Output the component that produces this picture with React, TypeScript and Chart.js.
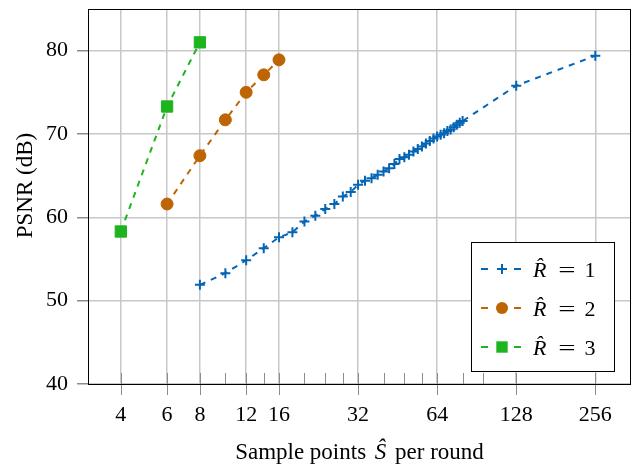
import React, { useEffect, useRef } from "react";
import { Chart, registerables } from "chart.js";

Chart.register(...registerables);

// ---- data ----
const xMajorTicks = [4, 6, 8, 12, 16, 32, 64, 128, 256];
const xMinorTicks = [10, 14, 20, 24, 28, 40, 48, 56, 80, 96];
const yTickValues = [40, 50, 60, 70, 80];

const r1X = [8, 10, 12, 14, 16, 18, 20, 22, 24, 26, 28, 30, 32, 34, 36, 38, 40, 42, 44, 46, 48, 50, 52, 54, 56, 58, 60, 62, 64, 66, 68, 70, 72, 74, 76, 78, 80, 128, 256];
const r1Y = [51.9, 53.3, 54.85, 56.3, 57.6, 58.2, 59.5, 60.2, 61.0, 61.6, 62.5, 63.05, 63.9, 64.4, 64.7, 65.1, 65.5, 65.9, 66.4, 67.0, 67.2, 67.5, 67.9, 68.2, 68.5, 68.85, 69.15, 69.45, 69.7, 69.9, 70.1, 70.35, 70.55, 70.8, 71.1, 71.35, 71.55, 75.8, 79.4];

const r2X = [6, 8, 10, 12, 14, 16];
const r2Y = [61.6, 67.4, 71.7, 75.0, 77.1, 78.9];

const r3X = [4, 6, 8];
const r3Y = [58.3, 73.3, 81.0];

const seriesLabels = ["R\u0302 = 1", "R\u0302 = 2", "R\u0302 = 3"];
const seriesColors = ["#0565b5", "#bd6505", "#1eb41e"];
const seriesMarkers = ["cross", "circle", "rect"];

// x title pieces: [text, italic?]
const xTitleParts: [string, boolean][] = [
  ["Sample points ", false],
  ["S\u0302", true],
  [" per round", false],
];
const yTitle = "PSNR (dB)";

const SERIF = '"Liberation Serif", "Times New Roman", serif';

function toPoints(xs: number[], ys: number[]) {
  return xs.map((x, i) => ({ x, y: ys[i] }));
}

function drawMarker(ctx: CanvasRenderingContext2D, style: string, x: number, y: number, color: string) {
  ctx.save();
  ctx.setLineDash([]);
  ctx.fillStyle = color;
  ctx.strokeStyle = color;
  if (style === "cross") {
    ctx.lineWidth = 2;
    ctx.beginPath();
    ctx.moveTo(x - 5, y);
    ctx.lineTo(x + 5, y);
    ctx.moveTo(x, y - 5);
    ctx.lineTo(x, y + 5);
    ctx.stroke();
  } else if (style === "circle") {
    ctx.beginPath();
    ctx.arc(x, y, 6, 0, Math.PI * 2);
    ctx.fill();
  } else {
    ctx.fillRect(x - 5.7, y - 5.7, 11.4, 11.4);
  }
  ctx.restore();
}

const axisDecor = {
  id: "axisDecor",
  afterDraw(chart: any) {
    const { ctx, chartArea } = chart;
    const xs = chart.scales.x;
    ctx.save();
    ctx.strokeStyle = "#8c8c8c";
    ctx.lineWidth = 1;
    const b = chartArea.bottom;
    xMajorTicks.forEach((v) => {
      const px = Math.round(xs.getPixelForValue(v)) + 0.5;
      ctx.beginPath();
      ctx.moveTo(px, b - 11);
      ctx.lineTo(px, b + 11);
      ctx.stroke();
    });
    xMinorTicks.forEach((v) => {
      const px = Math.round(xs.getPixelForValue(v)) + 0.5;
      ctx.beginPath();
      ctx.moveTo(px, b - 11);
      ctx.lineTo(px, b);
      ctx.stroke();
    });
    // frame
    ctx.strokeStyle = "#000";
    ctx.lineWidth = 1;
    ctx.strokeRect(chartArea.left + 0.5, chartArea.top + 0.5, chartArea.right - chartArea.left - 1, chartArea.bottom - chartArea.top);

    // x axis title (with italic math symbol)
    ctx.fillStyle = "#000";
    ctx.textBaseline = "alphabetic";
    ctx.textAlign = "left";
    const fonts = xTitleParts.map(([, it]) => (it ? "italic " : "") + "23px " + SERIF);
    const widths = xTitleParts.map(([t], i) => {
      ctx.font = fonts[i];
      return ctx.measureText(t).width;
    });
    const extra = 6; // math spacing around the symbol
    const total = widths.reduce((a, c) => a + c, 0) + extra;
    let cx = (chartArea.left + chartArea.right) / 2 - total / 2;
    xTitleParts.forEach(([t, it], i) => {
      ctx.font = fonts[i];
      if (it) cx += extra / 2;
      ctx.fillText(t, cx, 459);
      cx += widths[i];
      if (it) cx += extra / 2;
    });

    // y axis title
    ctx.save();
    ctx.translate(31.5, (chartArea.top + chartArea.bottom) / 2 - 11);
    ctx.rotate(-Math.PI / 2);
    ctx.textAlign = "center";
    ctx.textBaseline = "alphabetic";
    ctx.font = "23px " + SERIF;
    ctx.fillText(yTitle, 0, 0);
    ctx.restore();

    ctx.restore();
  },
};

const texLegend = {
  id: "texLegend",
  afterDraw(chart: any) {
    const { ctx, chartArea } = chart;
    const w = 144;
    const h = 130;
    const x0 = chartArea.right - 16 - w;
    const y0 = chartArea.bottom - 12 - h;
    ctx.save();
    ctx.fillStyle = "#fff";
    ctx.fillRect(x0, y0, w, h);
    ctx.strokeStyle = "#000";
    ctx.lineWidth = 1;
    ctx.strokeRect(x0 + 0.5, y0 + 0.5, w - 1, h - 1);
    chart.data.datasets.forEach((ds: any, i: number) => {
      const cy = y0 + 27 + i * 39;
      const color = ds.borderColor as string;
      ctx.strokeStyle = color;
      ctx.lineWidth = 2;
      ctx.setLineDash([]);
      ctx.beginPath();
      ctx.moveTo(x0 + 10, cy);
      ctx.lineTo(x0 + 17, cy);
      ctx.moveTo(x0 + 43, cy);
      ctx.lineTo(x0 + 50, cy);
      ctx.stroke();
      drawMarker(ctx, ds.pointStyle, x0 + 31, cy, color);
      const label: string = ds.label;
      const parts = label.split(" = ");
      ctx.fillStyle = "#000";
      ctx.textBaseline = "alphabetic";
      ctx.textAlign = "left";
      ctx.font = "italic 22px " + SERIF;
      ctx.fillText(parts[0], x0 + 62, cy + 8);
      ctx.save();
      ctx.translate(x0 + 96, cy + 8);
      ctx.scale(1.4, 1);
      ctx.textAlign = "center";
      ctx.font = "22px " + SERIF;
      ctx.fillText("=", 0, 0);
      ctx.restore();
      ctx.textAlign = "center";
      ctx.font = "22px " + SERIF;
      ctx.fillText(parts[1], x0 + 119, cy + 8);
    });
    ctx.restore();
  },
};

export default function App() {
  const ref = useRef<HTMLCanvasElement | null>(null);

  useEffect(() => {
    document.body.style.margin = "0";
    const canvas = ref.current;
    if (!canvas) return;
    const datasets = [
      { xs: r1X, ys: r1Y },
      { xs: r2X, ys: r2Y },
      { xs: r3X, ys: r3Y },
    ].map((s, i) => ({
      label: seriesLabels[i],
      data: toPoints(s.xs, s.ys),
      borderColor: seriesColors[i],
      backgroundColor: seriesColors[i],
      borderWidth: 2,
      borderDash: [6, 6],
      pointStyle: seriesMarkers[i],
      pointRadius: i === 0 ? 5 : i === 1 ? 6 : 8,
      pointBorderWidth: i === 0 ? 2 : 1,
      pointBackgroundColor: seriesColors[i],
      pointBorderColor: seriesColors[i],
      tension: 0,
      fill: false,
    }));

    const chart = new Chart(canvas, {
      type: "line",
      data: { datasets },
      plugins: [axisDecor, texLegend],
      options: {
        animation: false,
        responsive: false,
        maintainAspectRatio: false,
        layout: { padding: { left: 0, top: 6, right: 8, bottom: 0 } },
        plugins: {
          legend: { display: false },
          tooltip: { enabled: false },
        },
        scales: {
          x: {
            type: "logarithmic",
            min: 3,
            max: 350,
            afterBuildTicks: (scale: any) => {
              scale.ticks = xMajorTicks.map((v) => ({ value: v }));
            },
            afterFit: (scale: any) => {
              scale.height = 84;
              scale.paddingLeft = 0;
              scale.paddingRight = 0;
            },
            ticks: {
              autoSkip: false,
              maxRotation: 0,
              padding: 18,
              color: "#000",
              font: { family: SERIF, size: 22 },
              callback: (v: any) => String(v),
            },
            grid: { color: "#c8c8c8", lineWidth: 1.5, drawTicks: false },
            border: { display: false },
            title: { display: false },
          },
          y: {
            type: "linear",
            min: 40,
            max: 85,
            afterBuildTicks: (scale: any) => {
              scale.ticks = yTickValues.map((v) => ({ value: v }));
            },
            afterFit: (scale: any) => {
              scale.width = 88;
              scale.paddingTop = 0;
              scale.paddingBottom = 0;
            },
            ticks: {
              padding: 9,
              color: "#000",
              font: { family: SERIF, size: 22 },
              callback: (v: any) => String(v),
            },
            grid: { color: "#c8c8c8", lineWidth: 1.5, drawTicks: true, tickLength: 11, tickColor: "#8c8c8c" },
            border: { display: false },
            title: { display: false },
          },
        },
      } as any,
    });
    return () => chart.destroy();
  }, []);

  return (
    <div style={{ width: 640, height: 468 }}>
      <canvas ref={ref} width={640} height={468} />
    </div>
  );
}
